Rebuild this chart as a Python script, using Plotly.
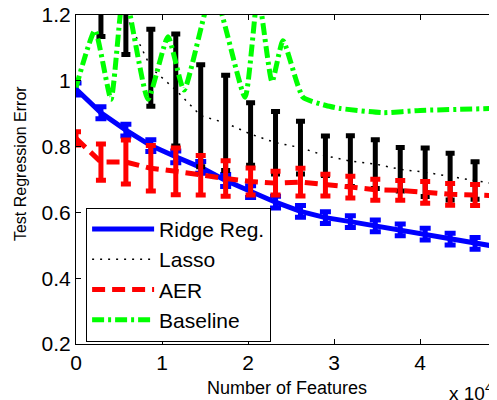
import plotly.graph_objects as go

# Number of features (x grid for the three error-bar series)
features = [0, 2900, 5800, 8700, 11600, 14500, 17400, 20300, 23200, 26100,
            29000, 31900, 34800, 37700, 40600, 43500, 46400, 49300]

ridge = [0.975, 0.903, 0.850, 0.803, 0.769, 0.737, 0.697, 0.663, 0.631, 0.603,
         0.584, 0.572, 0.559, 0.547, 0.534, 0.519, 0.506, 0.494]
ridge_err = [0.018, 0.018, 0.018, 0.018, 0.018, 0.018, 0.018, 0.018, 0.018, 0.018,
             0.018, 0.018, 0.018, 0.018, 0.018, 0.018, 0.018, 0.018]

lasso = [1.32, 1.255, 1.20, 1.04, 0.972, 0.894, 0.872, 0.838, 0.812, 0.797,
         0.772, 0.756, 0.747, 0.731, 0.722, 0.709, 0.697, 0.684]
lasso_err = [0.10, 0.12, 0.12, 0.117, 0.17, 0.155, 0.145, 0.095, 0.095, 0.08,
             0.06, 0.077, 0.074, 0.066, 0.074, 0.071, 0.057, 0.057]

aer = [0.825, 0.753, 0.753, 0.734, 0.725, 0.713, 0.703, 0.694, 0.689, 0.692,
       0.683, 0.677, 0.669, 0.667, 0.661, 0.655, 0.653, 0.650]
aer_err = [0.02, 0.055, 0.067, 0.069, 0.071, 0.06, 0.054, 0.041, 0.036, 0.042,
           0.033, 0.033, 0.032, 0.030, 0.033, 0.033, 0.032, 0.032]

baseline_x = [0, 2209, 4070, 5581, 8372, 10698, 12558, 15930, 19651, 21163,
              22791, 24070, 26395, 29070, 30698, 35698, 40000, 48953]
baseline = [0.98, 1.153, 0.944, 1.278, 0.944, 1.134, 0.972, 1.278, 0.95, 1.263,
            0.997, 1.122, 0.95, 0.925, 0.916, 0.903, 0.91, 0.916]

x_tickvals = [0, 10000, 20000, 30000, 40000]
x_ticktext = ["0", "1", "2", "3", "4"]
y_tickvals = [0.2, 0.4, 0.6, 0.8, 1.0, 1.2]
y_ticktext = ["0.2", "0.4", "0.6", "0.8", "1", "1.2"]

FONT = "Liberation Sans, Arial, sans-serif"

fig = go.Figure()
fig.add_trace(go.Scatter(
    x=features, y=ridge, mode="lines", name="Ridge Reg.",
    line=dict(color="#0000ff", width=5),
    error_y=dict(type="data", array=ridge_err, color="#0000ff", thickness=5, width=5.5),
))
fig.add_trace(go.Scatter(
    x=features, y=lasso, mode="lines", name="Lasso",
    line=dict(color="#000000", width=1.5, dash="2px,6px"),
    error_y=dict(type="data", array=lasso_err, color="#000000", thickness=5, width=4.5),
))
fig.add_trace(go.Scatter(
    x=features, y=aer, mode="lines", name="AER",
    line=dict(color="#ff0000", width=5, dash="13px,7px"),
    error_y=dict(type="data", array=aer_err, color="#ff0000", thickness=5, width=5),
))
fig.add_trace(go.Scatter(
    x=baseline_x, y=baseline, mode="lines", name="Baseline",
    line=dict(color="#00ff00", width=5, dash="12px,4px,3px,4px",
              shape="spline", smoothing=0.5),
))

# The page body adds an 8px offset, so the figure is 8px smaller than the window.
fig.update_layout(
    width=489, height=392,
    margin=dict(l=68, r=0, t=7, b=56, autoexpand=False),
    paper_bgcolor="white", plot_bgcolor="white",
    font=dict(family=FONT, size=21, color="black"),
    showlegend=True,
    legend=dict(
        x=0.024, y=0.414, xanchor="left", yanchor="top",
        bgcolor="white", bordercolor="black", borderwidth=1,
        font=dict(family=FONT, size=21, color="black"),
        itemwidth=62, tracegroupgap=0,
    ),
    xaxis=dict(
        range=[0, 48950], tickvals=x_tickvals, ticktext=x_ticktext,
        showline=True, linecolor="black", linewidth=1, mirror="ticks",
        ticks="inside", ticklen=5, tickcolor="black",
        showgrid=False, zeroline=False, automargin=False,
        ticklabeloverflow="allow",
        tickfont=dict(family=FONT, size=21),
    ),
    yaxis=dict(
        range=[0.2, 1.2], tickvals=y_tickvals, ticktext=y_ticktext,
        showline=True, linecolor="black", linewidth=1, mirror="ticks",
        ticks="inside", ticklen=5, tickcolor="black",
        showgrid=False, zeroline=False, automargin=False,
        ticklabeloverflow="allow",
        tickfont=dict(family=FONT, size=21),
    ),
    annotations=[
        dict(text="Number of Features", xref="paper", yref="paper",
             x=0.5, y=-0.135, xanchor="center", yanchor="middle",
             showarrow=False, font=dict(family=FONT, size=18)),
        dict(text="Test Regression Error", xref="paper", yref="paper",
             x=-0.133, y=0.547, xanchor="center", yanchor="middle", textangle=-90,
             showarrow=False, font=dict(family=FONT, size=16)),
        dict(text="x 10<sup>4</sup>", xref="paper", yref="paper",
             x=0.881, y=-0.146, xanchor="left", yanchor="middle",
             showarrow=False, font=dict(family=FONT, size=19)),
    ],
)

fig.write_html("out.html")
